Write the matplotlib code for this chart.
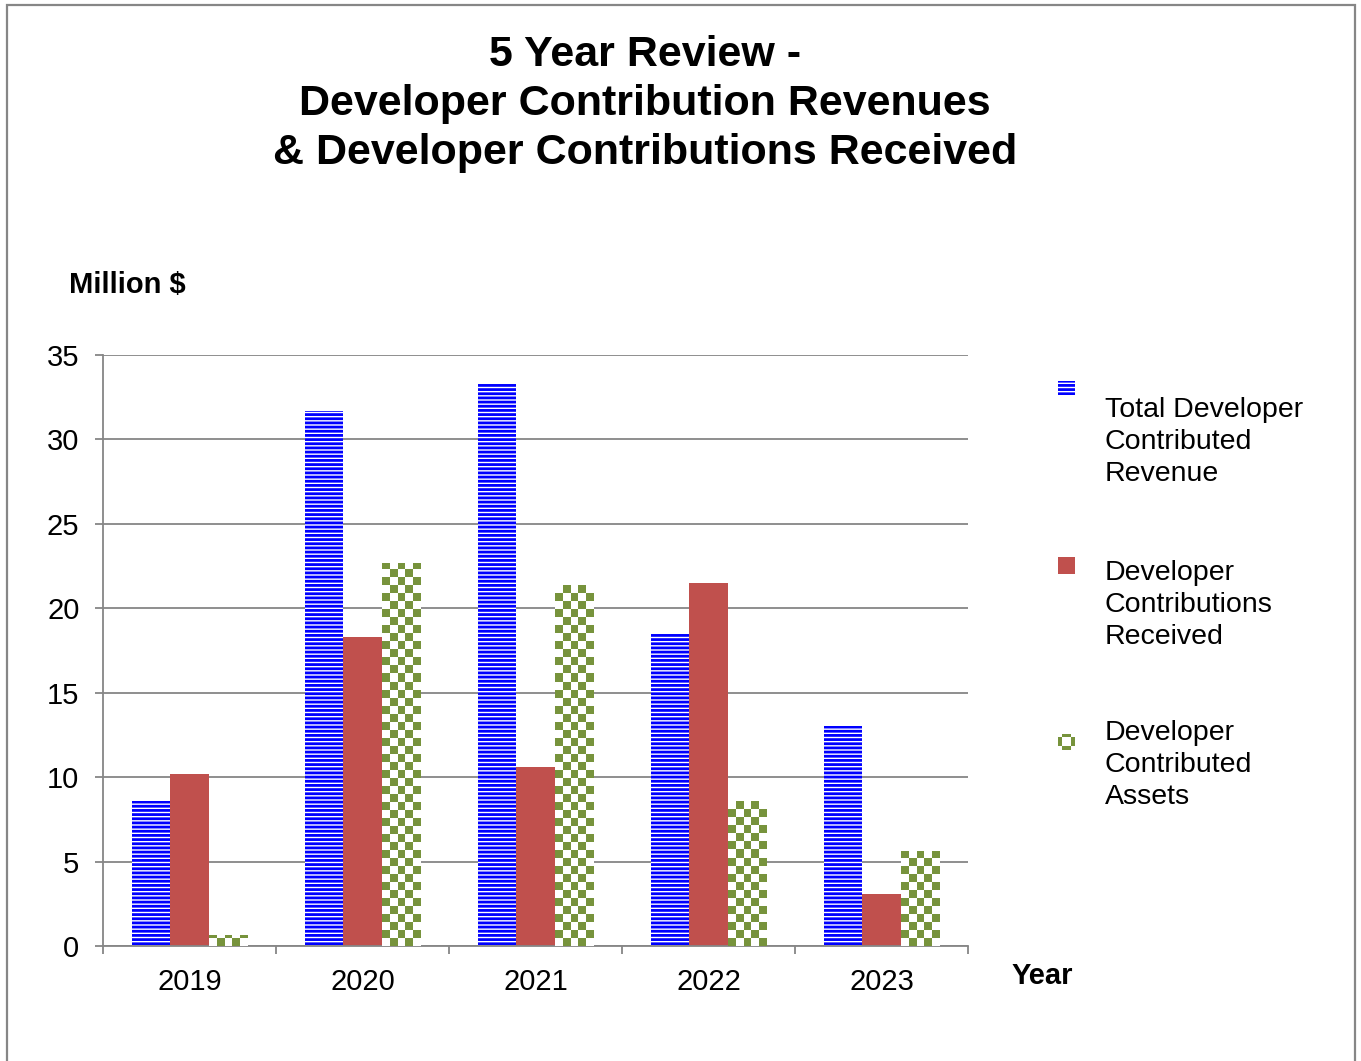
import numpy as np
import matplotlib
matplotlib.use("Agg")
import matplotlib.pyplot as plt
from matplotlib.patches import Rectangle

plt.rcParams["font.family"] = ["Liberation Sans", "DejaVu Sans"]
plt.rcParams["hatch.linewidth"] = 2.0

years = ["2019", "2020", "2021", "2022", "2023"]
total_revenue = [8.6, 31.7, 33.3, 18.5, 13.0]
contributions_received = [10.2, 18.3, 10.6, 21.5, 3.1]
contributed_assets = [0.65, 22.7, 21.4, 8.6, 5.6]
series_labels = [
    "Total Developer\nContributed\nRevenue",
    "Developer\nContributions\nReceived",
    "Developer\nContributed\nAssets",
]

BLUE = "#0000FF"
RED = "#C0504D"
GREEN = "#77933C"
GRAY = "#868686"

W, H, DPI = 1361, 1061, 100
fig = plt.figure(figsize=(W / DPI, H / DPI), dpi=DPI)
ax = fig.add_axes([103 / W, 1 - 946 / H, 865 / W, 591 / H])

x = np.arange(len(years))
bw = 0.223

# grid behind bars
ax.set_axisbelow(True)
ax.yaxis.grid(True, color=GRAY, linewidth=1.3)

ax.bar(x - bw, total_revenue, bw, facecolor="white", edgecolor=BLUE,
       linewidth=0, hatch="----", zorder=2)
ax.bar(x, contributions_received, bw, color=RED, linewidth=0, zorder=2)
green_bars = ax.bar(x + bw, contributed_assets, bw, facecolor="white",
                    linewidth=0, zorder=2)

ax.set_xlim(-0.5, len(years) - 0.5)
ax.set_ylim(0, 35)

# checkerboard fill for the asset bars
cell_px = 8.0
px_per_x = 865 / (len(years))
px_per_y = 591 / 35
green_rgb = np.array(matplotlib.colors.to_rgb(GREEN))
for bar in green_bars:
    x0, y0 = bar.get_x(), bar.get_y()
    w, h = bar.get_width(), bar.get_height()
    nx = max(1, int(round(w * px_per_x / cell_px)))
    ny = max(1, int(np.ceil(h * px_per_y / cell_px)))
    ii, jj = np.indices((ny, nx))
    mask = ((ii + jj) % 2 == 0)
    img = np.ones((ny, nx, 3))
    img[mask] = green_rgb
    top = y0 + ny * cell_px / px_per_y
    im = ax.imshow(img, extent=(x0, x0 + w, y0, top), origin="upper",
                   interpolation="nearest", aspect="auto", zorder=3)
    im.set_clip_path(bar)

ax.set_xlim(-0.5, len(years) - 0.5)
ax.set_ylim(0, 35)

for s in ["top", "right"]:
    ax.spines[s].set_visible(False)
for s in ["left", "bottom"]:
    ax.spines[s].set_color(GRAY)
    ax.spines[s].set_linewidth(1.3)

ax.set_yticks(np.arange(0, 36, 5))
ax.tick_params(axis="y", direction="out", length=6, width=1.3, color=GRAY,
               labelsize=21, pad=11)
ax.set_xticks(x)
ax.set_xticklabels(years)
ax.set_xticks(np.arange(-0.5, len(years), 1.0), minor=True)
ax.tick_params(axis="x", which="major", length=0, labelsize=21, pad=16)
ax.tick_params(axis="x", which="minor", direction="out", length=6,
               width=1.3, color=GRAY)

# title and axis captions
fig.text(645 / W, 1 - 104 / H,
         "5 Year Review -\nDeveloper Contribution Revenues\n& Developer Contributions Received",
         ha="center", va="center", fontsize=31, fontweight="bold",
         linespacing=1.28)
fig.text(69 / W, 1 - 285 / H, "Million $", ha="left", va="center",
         fontsize=21, fontweight="bold")
fig.text(1012 / W, 1 - 976 / H, "Year", ha="left", va="center",
         fontsize=21, fontweight="bold")

# legend
marker_y = [388, 565, 742]
text_y = [408, 571, 731]
msz = 17
for k, (yc, ty, label) in enumerate(zip(marker_y, text_y, series_labels)):
    left = 1058 / W
    bottom = 1 - (yc + msz / 2) / H
    mw, mh = msz / W, msz / H
    if k == 0:
        fig.add_artist(Rectangle((left, 1 - (yc + 7) / H), mw, 14 / H,
                                 transform=fig.transFigure,
                                 facecolor="white", edgecolor=BLUE, linewidth=0,
                                 hatch="----"))
    elif k == 1:
        fig.add_artist(Rectangle((left, bottom), mw, mh, transform=fig.transFigure,
                                 facecolor=RED, linewidth=0))
    else:
        ring = np.array([[0, 1, 1, 0], [1, 0, 0, 1], [1, 0, 0, 1], [0, 1, 1, 0]])
        icon = np.ones((4, 4, 3))
        icon[ring == 1] = green_rgb
        iax = fig.add_axes([left, bottom, mw, mh])
        iax.imshow(icon, interpolation="nearest", aspect="auto")
        iax.axis("off")
    fig.text(1105 / W, 1 - (ty - 11) / H, label, ha="left", va="top",
             fontsize=20.5, linespacing=1.3)

# outer chart border
fig.add_artist(Rectangle((6.5 / W, -0.01), (1355 - 6.5) / W, 1.01 - 5 / H,
                         transform=fig.transFigure, fill=False,
                         edgecolor=GRAY, linewidth=1.6))

fig.savefig("out.png", dpi=DPI)
